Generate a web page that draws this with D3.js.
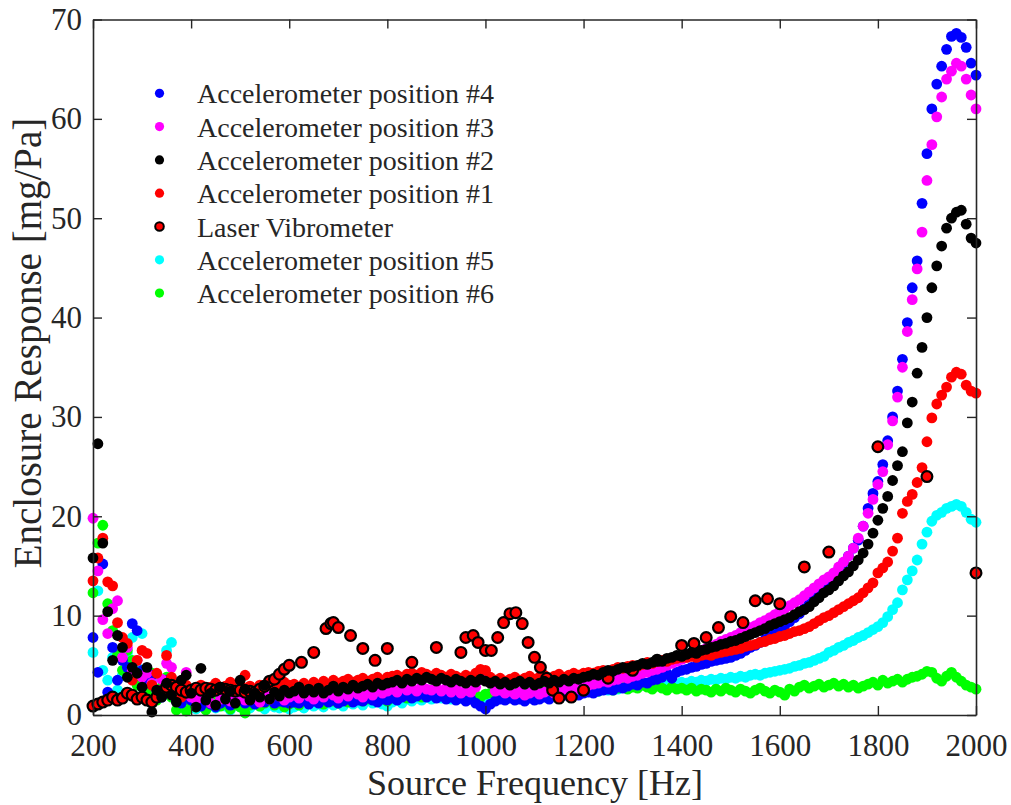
<!DOCTYPE html>
<html>
<head>
<meta charset="utf-8">
<script src="https://cdn.jsdelivr.net/npm/d3@7/dist/d3.min.js"></script>
<style>
  body { margin: 0; background: #fff; }
  text { font-family: "Liberation Serif", "Times New Roman", serif; fill: #262626; }
</style>
</head>
<body>
<div id="chart"></div>
<script>
// sampling grid of the accelerometer sweeps [Hz]
const freqs = [200,210,220,230,240,250,260,270,280,290,300,310,320,330,340,350,360,370,380,390,400,
  410,420,430,440,450,460,470,480,490,500,510,520,530,540,550,560,570,580,590,600,
  610,620,630,640,650,660,670,680,690,700,710,720,730,740,750,760,770,780,790,800,
  810,820,830,840,850,860,870,880,890,900,910,920,930,940,950,960,970,980,990,1000,
  1010,1020,1030,1040,1050,1060,1070,1080,1090,1100,1110,1120,1130,1140,1150,1160,1170,1180,1190,1200,
  1210,1220,1230,1240,1250,1260,1270,1280,1290,1300,1310,1320,1330,1340,1350,1360,1370,1380,1390,1400,
  1410,1420,1430,1440,1450,1460,1470,1480,1490,1500,1510,1520,1530,1540,1550,1560,1570,1580,1590,1600,
  1610,1620,1630,1640,1650,1660,1670,1680,1690,1700,1710,1720,1730,1740,1750,1760,1770,1780,1790,1800,
  1810,1820,1830,1840,1850,1860,1870,1880,1890,1900,1910,1920,1930,1940,1950,1960,1970,1980,1990,2000];

// enclosure response [mg/Pa], one value per entry of freqs
const pos4 = [7.8,4.3,15.2,2.3,6.8,3.5,5.5,4.8,9.2,8.5,4.5,3.2,4.0,2.5,1.8,3.5,2.2,1.4,1.2,2.6,1.5,
  1.0,0.9,1.4,1.1,0.8,1.2,1.5,1.0,1.3,1.6,1.2,1.4,1.1,1.5,1.3,1.6,1.2,1.4,1.3,1.2,
  1.3,1.2,1.5,1.1,1.4,1.2,1.6,1.3,1.5,1.2,1.4,1.6,1.3,1.5,1.4,1.7,1.5,1.3,1.6,1.5,
  1.7,1.5,1.8,2.0,1.7,1.9,2.1,1.8,2.0,1.7,1.9,1.6,1.8,1.5,1.7,1.4,1.6,1.2,0.9,0.6,
  1.1,1.4,1.6,1.5,1.7,1.5,1.6,1.4,1.7,1.5,1.6,1.8,1.6,1.9,1.8,2.0,1.9,2.1,2.0,2.2,
  2.3,2.2,2.4,2.5,2.6,2.5,2.8,2.7,2.9,3.1,3.0,3.3,3.2,3.5,3.6,3.8,4.2,3.7,4.3,4.5,
  4.6,4.8,4.9,5.1,5.2,5.4,5.5,5.6,5.7,5.8,6.0,6.2,6.5,6.8,7.0,7.3,7.6,7.9,8.2,8.6,
  9.0,9.4,9.8,10.2,10.7,11.2,11.7,12.2,12.8,13.4,14.0,14.6,15.3,16.0,16.8,17.6,19.0,20.8,22.3,23.5,
  25.2,27.6,30.0,32.6,35.8,39.5,43.0,45.7,51.5,56.5,61.0,63.5,65.3,67.0,68.3,68.6,68.2,67.2,65.6,64.4];

const pos3 = [19.8,14.5,9.6,8.2,10.7,11.5,5.8,6.8,4.5,5.5,3.8,4.2,3.2,2.5,3.6,5.2,4.8,3.0,2.2,4.3,1.8,
  1.5,2.2,1.8,1.2,2.5,1.6,2.0,1.4,2.2,1.8,1.5,2.4,1.7,1.3,2.0,1.6,2.2,1.9,1.5,1.8,
  2.0,1.7,2.3,1.9,1.6,2.1,1.8,2.4,2.0,1.7,2.2,1.9,2.5,2.1,1.8,2.3,2.0,2.6,2.2,2.4,
  2.6,2.3,2.8,2.5,2.7,2.4,2.9,2.6,2.5,2.8,2.4,2.7,2.3,2.6,2.2,2.5,2.3,2.8,3.6,4.3,
  3.2,2.4,2.5,2.2,2.4,2.1,2.3,2.0,2.2,2.4,2.1,2.3,2.5,2.2,2.4,2.6,2.5,2.7,2.6,2.9,
  3.0,3.1,3.2,3.4,3.3,3.5,3.6,3.8,3.7,3.9,4.0,4.2,4.3,4.5,4.6,4.8,5.0,5.2,5.4,5.6,
  5.8,6.0,6.2,6.5,6.7,6.9,7.1,7.4,7.6,7.8,8.0,8.3,8.5,8.8,9.0,9.3,9.5,9.8,10.1,10.4,
  10.7,11.0,11.3,11.6,12.0,12.4,12.8,13.2,13.6,13.9,14.3,14.9,15.4,16.0,16.8,17.8,19.0,20.3,21.7,23.2,
  24.5,27.2,29.6,32.0,35.0,38.6,41.8,44.9,48.6,53.8,57.4,60.2,62.2,64.0,64.8,65.6,65.3,64.0,62.4,61.0];

const pos2 = [15.8,27.3,17.3,10.4,5.5,8.0,6.8,3.8,4.8,4.2,2.8,4.8,0.3,2.5,1.8,3.2,2.0,1.3,3.5,4.0,2.2,
  0.8,4.7,1.5,2.2,1.0,2.8,1.6,2.4,1.2,3.5,2.6,1.5,2.2,1.8,3.0,1.6,2.3,1.9,2.5,2.2,
  2.4,2.8,2.2,2.6,2.3,2.7,2.2,2.5,2.9,2.4,2.8,2.6,3.0,2.7,2.9,3.1,2.8,3.2,3.0,3.2,
  3.3,3.5,3.2,3.6,3.4,3.7,3.5,3.8,3.6,3.4,3.7,3.5,3.3,3.6,3.4,3.2,3.5,3.3,3.6,3.4,
  3.2,3.4,3.1,3.3,3.0,3.2,3.4,3.1,3.3,3.0,3.2,3.4,3.2,3.5,3.3,3.6,3.4,3.7,3.6,3.8,
  3.9,4.1,4.0,4.3,4.5,4.4,4.6,4.8,4.7,4.9,5.0,5.2,5.1,5.3,5.5,5.4,5.7,5.8,6.0,5.9,
  6.1,6.3,6.2,6.5,6.6,6.8,6.9,7.1,7.2,7.4,7.5,7.7,7.9,8.1,8.3,8.5,8.7,9.0,9.2,9.4,
  9.6,9.8,10.1,10.4,10.6,10.9,11.4,11.8,12.3,12.6,13.0,13.5,14.0,14.4,15.0,15.6,16.3,17.2,18.3,19.6,
  20.8,22.0,23.6,25.1,26.5,29.4,31.5,34.4,37.0,40.0,43.0,45.2,47.2,49.0,50.0,50.6,50.8,49.4,48.0,47.5];

const pos1 = [13.5,15.8,17.8,13.4,13.0,9.3,7.8,7.2,3.5,5.5,6.5,6.2,3.0,4.2,2.5,6.0,3.8,2.5,1.8,3.0,2.2,
  2.6,3.0,2.4,2.8,3.2,2.6,2.9,3.3,2.7,3.1,4.0,2.9,2.6,3.0,2.8,3.2,2.7,3.0,3.3,3.0,
  3.1,2.8,3.2,2.9,3.3,3.0,3.4,3.1,3.5,3.2,3.4,3.6,3.3,3.5,3.7,3.4,3.6,3.8,3.5,3.8,
  3.9,4.0,3.8,4.1,4.2,4.0,4.3,4.1,3.9,4.2,4.0,3.8,4.1,3.9,3.7,4.0,3.8,4.2,4.6,4.5,
  3.8,3.5,3.7,3.4,3.6,3.8,3.5,3.7,3.9,3.6,3.8,4.0,3.7,3.9,4.1,3.8,4.0,4.2,4.0,4.2,
  4.3,4.2,4.4,4.5,4.4,4.6,4.8,4.7,4.9,5.0,4.9,5.1,5.3,5.2,5.4,5.5,5.4,5.6,5.7,5.8,
  5.8,5.9,5.8,6.0,6.1,6.0,6.2,6.3,6.4,6.5,6.6,6.7,6.9,7.0,7.1,7.3,7.4,7.6,7.7,7.9,
  8.0,8.2,8.4,8.5,8.7,8.9,9.2,9.5,9.8,10.0,10.3,10.6,10.9,11.2,11.5,11.8,12.3,12.8,13.3,14.3,
  14.8,15.4,16.5,17.8,20.3,21.5,22.2,23.4,24.9,27.5,29.9,31.3,32.2,33.0,34.0,34.5,34.3,33.2,32.6,32.4];

const pos5 = [6.3,12.5,4.5,3.5,5.8,2.5,4.0,6.2,7.8,4.8,8.2,3.0,2.0,3.8,2.5,6.5,7.3,2.8,1.5,0.8,1.2,
  0.6,1.0,0.8,1.3,0.7,1.1,0.9,0.5,1.2,0.8,1.0,0.7,1.2,0.9,0.6,1.0,0.8,0.7,1.1,0.6,
  0.8,1.0,0.7,1.2,0.9,1.1,0.8,1.3,1.0,1.2,0.9,1.4,1.1,1.3,1.0,1.5,1.2,1.4,1.1,0.9,
  1.3,1.5,1.2,1.6,1.4,1.7,1.5,1.8,1.6,1.9,1.7,1.8,1.6,1.9,1.7,2.0,1.8,1.9,1.6,1.4,
  1.8,2.0,1.9,2.1,2.0,2.2,2.1,2.3,2.2,2.0,2.2,2.1,2.3,2.2,2.4,2.3,2.2,2.4,2.3,2.3,
  2.4,2.5,2.4,2.6,2.5,2.7,2.6,2.8,2.7,2.9,2.8,3.0,2.9,3.0,3.1,2.9,3.0,3.2,3.1,3.3,
  3.2,3.4,3.3,3.5,3.4,3.6,3.5,3.7,3.6,3.8,3.7,3.9,3.8,4.0,4.1,4.0,4.2,4.3,4.4,4.5,
  4.6,4.7,4.9,5.0,5.2,5.3,5.5,5.7,5.9,6.3,6.5,6.8,7.0,7.3,7.5,7.8,8.0,8.3,8.6,8.9,
  9.3,9.9,10.6,11.3,12.6,13.6,14.5,15.6,17.2,18.4,19.5,20.1,20.4,20.8,21.0,21.2,21.0,20.4,19.7,19.4];

const pos6 = [12.3,17.3,19.1,11.2,8.5,6.0,4.5,6.5,5.5,3.0,4.2,2.2,4.2,1.5,2.8,3.8,1.8,0.5,2.0,0.4,1.2,
  0.8,1.2,0.5,1.0,1.4,0.9,1.3,0.6,1.1,0.8,0.2,1.0,1.3,0.9,1.2,1.5,1.0,1.3,0.8,1.1,
  1.3,1.0,1.5,1.2,1.6,1.3,1.1,1.7,1.4,1.2,1.6,1.3,1.5,1.8,1.4,1.6,1.9,1.5,1.7,1.4,
  1.8,1.6,2.0,1.7,1.9,2.1,1.8,2.0,2.2,1.9,2.1,1.8,2.0,2.2,1.9,2.1,2.3,2.0,1.8,2.1,
  2.2,2.0,2.3,2.1,2.4,2.2,2.0,2.3,2.1,2.4,2.2,2.5,2.3,2.1,2.4,2.2,2.5,2.3,2.6,2.4,
  2.5,2.7,2.4,2.6,2.8,2.5,2.7,2.9,2.6,2.8,2.7,3.0,2.8,2.6,2.9,2.7,2.5,2.8,2.6,2.7,
  2.5,2.7,2.4,2.6,2.5,2.3,2.6,2.4,2.7,2.5,2.3,2.6,2.4,2.2,2.5,2.7,2.4,2.2,2.5,2.3,
  2.0,2.6,2.4,2.8,3.0,2.7,2.9,3.1,2.8,3.0,3.2,2.9,3.1,2.8,3.0,2.7,2.9,3.1,3.3,3.0,
  3.5,3.2,3.4,3.6,3.3,3.6,3.8,3.9,4.1,4.4,4.3,3.7,3.4,3.9,4.3,3.8,3.4,3.0,2.8,2.6];

// laser vibrometer, own frequency points
const laserFreqs = [200,210,220,230,240,250,260,270,280,290,300,310,320,330,340,350,360,370,380,390,400,
  410,420,430,440,450,460,470,480,490,500,510,520,530,540,550,560,570,580,590,600,
  625,650,675,685,690,700,725,750,775,800,850,900,950,960,975,985,1000,1012,1025,1037,1050,1062,
  1075,1087,1100,1112,1125,1137,1150,1175,1200,1250,1300,1350,1400,1425,1450,1475,1500,1525,
  1550,1575,1600,1650,1700,1800,1900,2000];
const laser = [0.9,1.1,1.3,1.5,1.8,1.5,1.7,2.2,2.0,1.6,1.8,1.5,1.3,1.8,2.3,2.8,3.0,2.8,2.5,2.3,2.5,
  2.7,2.5,2.7,2.6,2.5,2.7,2.6,2.5,2.4,2.5,2.3,2.4,2.3,2.6,2.9,3.4,3.6,4.1,4.6,5.0,
  5.3,6.3,8.7,9.2,9.3,8.8,8.0,6.7,5.5,6.7,5.3,6.8,6.3,7.8,8.0,7.3,6.5,6.5,7.8,9.3,
  10.2,10.3,9.2,7.3,5.8,4.8,3.7,2.5,1.7,1.8,2.5,3.7,4.5,5.5,7.0,7.2,7.8,8.8,9.9,9.3,
  11.5,11.7,11.2,14.9,16.4,27.0,24.0,14.3];

const xTicks = [200,400,600,800,1000,1200,1400,1600,1800,2000];
const yTicks = [0,10,20,30,40,50,60,70];

const seriesNames = ["Accelerometer position #4","Accelerometer position #3","Accelerometer position #2",
  "Accelerometer position #1","Laser Vibrometer","Accelerometer position #5","Accelerometer position #6"];
const seriesColors = ["#0000ff","#ff00ff","#000000","#ff0000","#ff0000","#00ffff","#00ff00"];

const W = 1011, H = 805;
const svg = d3.select("#chart").append("svg")
  .attr("width", W).attr("height", H);

const x = d3.scaleLinear().domain([200, 2000]).range([93, 976]);
const y = d3.scaleLinear().domain([0, 70]).range([715, 19.5]);

const plot = svg.append("g");

function dots(vals, color) {
  plot.append("g").selectAll("circle")
    .data(freqs.map((f, i) => [f, vals[i]]))
    .join("circle")
    .attr("cx", d => x(d[0]))
    .attr("cy", d => y(d[1]))
    .attr("r", 5.4)
    .attr("fill", color);
}

// drawing order roughly as it overlaps in the figure
dots(pos5, seriesColors[5]);
dots(pos6, seriesColors[6]);
dots(pos4, seriesColors[0]);
dots(pos3, seriesColors[1]);
dots(pos1, seriesColors[3]);

plot.append("g").selectAll("circle")
  .data(laserFreqs.map((f, i) => [f, laser[i]]))
  .join("circle")
  .attr("cx", d => x(d[0]))
  .attr("cy", d => y(d[1]))
  .attr("r", 5.4)
  .attr("fill", "#ff0000")
  .attr("stroke", "#000")
  .attr("stroke-width", 2.2);

dots(pos2, seriesColors[2]);

// axes, MATLAB style: inward ticks, box
const axisColor = "#262626";
const fmt = d3.format("d");
const gx = svg.append("g").attr("transform", "translate(0,715)")
  .call(d3.axisBottom(x).tickValues(xTicks).tickFormat(fmt).tickSizeInner(-9).tickSizeOuter(0).tickPadding(19));
const gy = svg.append("g").attr("transform", "translate(93,0)")
  .call(d3.axisLeft(y).tickValues(yTicks).tickFormat(fmt).tickSizeInner(-9).tickSizeOuter(0).tickPadding(11));
const gt = svg.append("g").attr("transform", "translate(0,19.5)")
  .call(d3.axisTop(x).tickValues(xTicks).tickSizeInner(-9).tickSizeOuter(0).tickFormat(""));
const gr = svg.append("g").attr("transform", "translate(976,0)")
  .call(d3.axisRight(y).tickValues(yTicks).tickSizeInner(-9).tickSizeOuter(0).tickFormat(""));

[gx, gy, gt, gr].forEach(g => {
  g.selectAll("path.domain").attr("stroke", axisColor).attr("stroke-width", 1.6);
  g.selectAll(".tick line").attr("stroke", axisColor).attr("stroke-width", 1.4);
  g.selectAll(".tick text")
    .attr("fill", axisColor)
    .style("font-family", "'Liberation Serif', serif")
    .style("font-size", "31px");
});

svg.append("text")
  .attr("x", 535).attr("y", 795)
  .attr("text-anchor", "middle")
  .style("font-size", "36px")
  .text("Source Frequency [Hz]");

svg.append("text")
  .attr("transform", "translate(41,343) rotate(-90)")
  .attr("text-anchor", "middle")
  .style("font-size", "39px")
  .text("Enclosure Response [mg/Pa]");

// legend
const legend = svg.append("g");
seriesNames.forEach((name, i) => {
  const cy = 93.3 + i * 33.3;
  const c = legend.append("circle")
    .attr("cx", 159.5).attr("cy", cy)
    .attr("r", 4.6)
    .attr("fill", seriesColors[i]);
  if (name === "Laser Vibrometer") {
    c.attr("r", 4.3).attr("stroke", "#000").attr("stroke-width", 2);
  }
  legend.append("text")
    .attr("x", 197).attr("y", cy + 10)
    .style("font-size", "28px")
    .text(name);
});
</script>
</body>
</html>
